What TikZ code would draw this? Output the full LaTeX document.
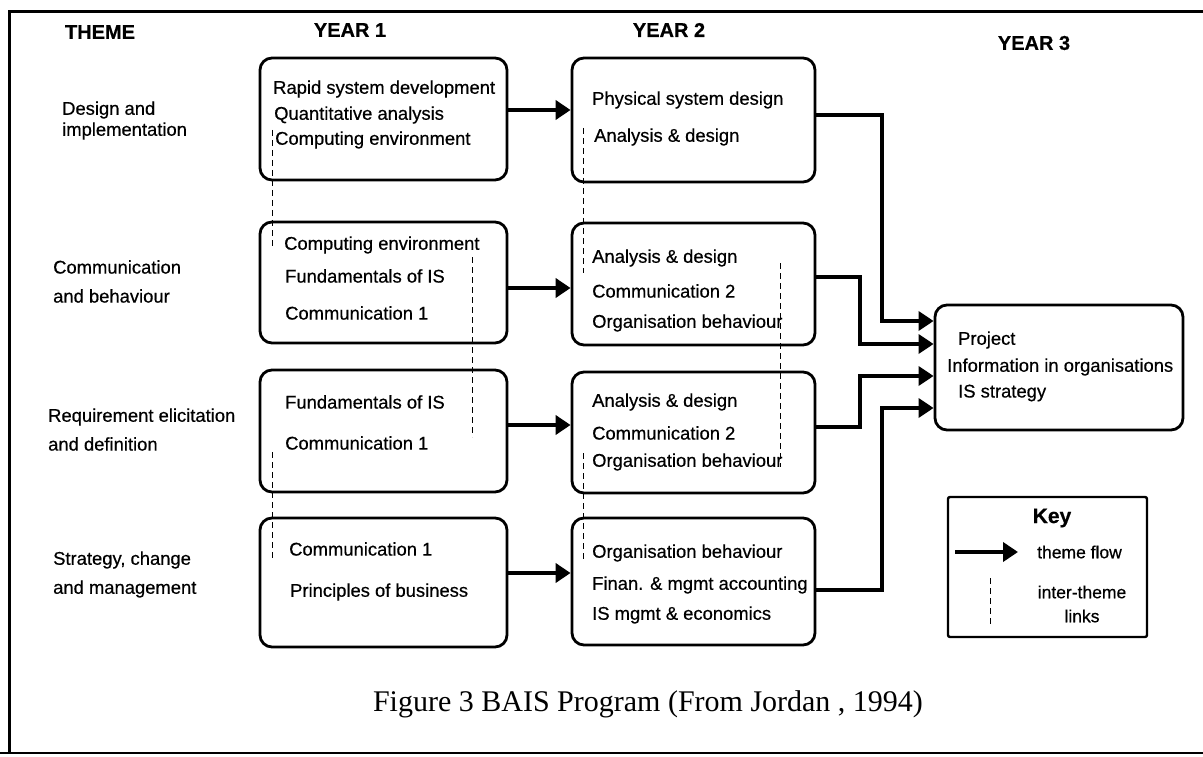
\documentclass[tikz,border=0pt]{standalone}
\usepackage{fontspec}
\setmainfont{Liberation Sans}[FakeBold=0.5]
\newfontfamily\capfont{Liberation Serif}
\usetikzlibrary{arrows.meta}
\begin{document}
\begin{tikzpicture}[x=1pt,y=-1pt,
  card/.style={draw, line width=2.8pt, rounded corners=12pt, inner sep=0pt},
  txt/.style={font=\fontsize{18.4}{25}\selectfont, align=left, inner sep=0pt, anchor=west},
  theme/.style={font=\fontsize{18.4}{22}\selectfont, align=left, inner sep=0pt, anchor=west},
  head/.style={font=\bfseries\fontsize{20}{24}\selectfont, inner sep=0pt},
  flow/.style={line width=4pt, -{Triangle[length=15pt,width=19pt]}},
  link/.style={line width=1pt, dash pattern=on 6pt off 4pt},
]
\useasboundingbox (0,0) rectangle (1203,757);
\fill[white] (0,0) rectangle (1203,757);

% outer frame
\draw[line width=3pt] (9,753) -- (9,12) -- (1210,12);
\draw[line width=2pt] (0,753) -- (1210,753);

% column headings
\node[head] (hTheme) at (100,32) {THEME};
\node[head] (hY1) at (350,30) {YEAR 1};
\node[head] (hY2) at (669,30) {YEAR 2};
\node[head] (hY3) at (1034,43) {YEAR 3};

% theme names
\node[theme] (t1a) at (62,110) {Design and};
\node[theme] (t1b) at (62,131) {implementation};
\node[theme] (t2a) at (53,267) {Communication};
\node[theme] (t2b) at (53,296) {and behaviour};
\node[theme] (t3a) at (48,417) {Requirement elicitation};
\node[theme] (t3b) at (48,444) {and definition};
\node[theme] (t4a) at (53,560) {Strategy, change};
\node[theme] (t4b) at (53,589) {and management};

% year 1 boxes
\node[card, minimum width=247pt, minimum height=122pt] (y1a) at (383.5,119) {};
\node[card, minimum width=247pt, minimum height=121pt] (y1b) at (383.5,282.5) {};
\node[card, minimum width=247pt, minimum height=122pt] (y1c) at (383.5,431) {};
\node[card, minimum width=247pt, minimum height=129pt] (y1d) at (383.5,582.5) {};

% year 2 boxes
\node[card, minimum width=243pt, minimum height=124pt] (y2a) at (693.5,120) {};
\node[card, minimum width=243pt, minimum height=122pt] (y2b) at (693.5,284) {};
\node[card, minimum width=243pt, minimum height=121pt] (y2c) at (693.5,432.5) {};
\node[card, minimum width=243pt, minimum height=127pt] (y2d) at (693.5,581.5) {};

% year 3 box
\node[card, minimum width=248pt, minimum height=125pt] (y3) at (1059,367.5) {};

% year 1 subjects
\node[txt] (s1a1) at (273,89) {Rapid system development};
\node[txt] (s1a2) at (274,115) {Quantitative analysis};
\node[txt] (s1a3) at (275,140) {Computing environment};
\node[txt] (s1b1) at (284,245) {Computing environment};
\node[txt] (s1b2) at (285,276) {Fundamentals of IS};
\node[txt] (s1b3) at (285,313) {Communication 1};
\node[txt] (s1c1) at (285,402) {Fundamentals of IS};
\node[txt] (s1c2) at (285,443) {Communication 1};
\node[txt] (s1d1) at (289,549) {Communication 1};
\node[txt] (s1d2) at (290,592) {Principles of business};

% year 2 subjects
\node[txt] (s2a1) at (592,100) {Physical system design};
\node[txt] (s2a2) at (594,137) {Analysis \& design};
\node[txt] (s2b1) at (592,258) {Analysis \& design};
\node[txt] (s2b2) at (592,291) {Communication 2};
\node[txt] (s2b3) at (592,323) {Organisation behaviour};
\node[txt] (s2c1) at (592,402) {Analysis \& design};
\node[txt] (s2c2) at (592,433) {Communication 2};
\node[txt] (s2c3) at (592,462) {Organisation behaviour};
\node[txt] (s2d1) at (592,553) {Organisation behaviour};
\node[txt] (s2d2) at (592,585) {Finan. \& mgmt accounting};
\node[txt] (s2d3) at (592,615) {IS mgmt \& economics};

% year 3 subjects
\node[txt] (s3a) at (958,340) {Project};
\node[txt] (s3b) at (947,367) {Information in organisations};
\node[txt] (s3c) at (958,393) {IS strategy};

% theme flow, year 1 to year 2
\draw[flow] (y1a.east |- 0,110) -- (y2a.west |- 0,110);
\draw[flow] (y1b.east |- 0,288) -- (y2b.west |- 0,288);
\draw[flow] (y1c.east |- 0,425) -- (y2c.west |- 0,425);
\draw[flow] (y1d.east |- 0,573) -- (y2d.west |- 0,573);

% theme flow, year 2 to year 3
\draw[flow, line width=3.5pt] (y2a.east |- 0,115) -| (882,321) -- (y3.west |- 0,321);
\draw[flow, line width=3.5pt] (y2b.east |- 0,277) -| (860,344) -- (y3.west |- 0,344);
\draw[flow, line width=3.5pt] (y2c.east |- 0,427) -| (860,376) -- (y3.west |- 0,376);
\draw[flow, line width=3.5pt] (y2d.east |- 0,590) -| (882,408) -- (y3.west |- 0,408);

% inter-theme links
\draw[link] (272,130) -- (272,246);
\draw[link] (472,257) -- (472,437);
\draw[link] (272,452) -- (272,560);
\draw[link] (583,128) -- (583,273);
\draw[link] (780,263) -- (780,467);
\draw[link] (583,453) -- (583,562);

% key
\node[draw, line width=2.4pt, rounded corners=2pt, minimum width=199pt, minimum height=140pt, inner sep=0pt] (key) at (1047.5,567) {};
\node[font=\bfseries\fontsize{21}{24}\selectfont, inner sep=0pt] (keyT) at (1052,518) {Key};
\coordinate (kfs) at (955,552);
\coordinate (kfe) at (1018,552);
\draw[flow] (kfs) -- (kfe);
\node[font=\fontsize{17.5}{20}\selectfont, inner sep=0pt, anchor=west] (keyF) at (1037,552) {theme flow};
\coordinate (kls) at (990,578);
\coordinate (kle) at (990,624);
\draw[link] (kls) -- (kle);
\node[font=\fontsize{17.5}{24}\selectfont, align=center, inner sep=0pt] (keyL) at (1082,604) {inter-theme\\links};

% caption
\node[font=\capfont\fontsize{30}{36}\selectfont, inner sep=0pt] (cap) at (648,704) {Figure 3 BAIS Program (From Jordan , 1994)};
\end{tikzpicture}
\end{document}
